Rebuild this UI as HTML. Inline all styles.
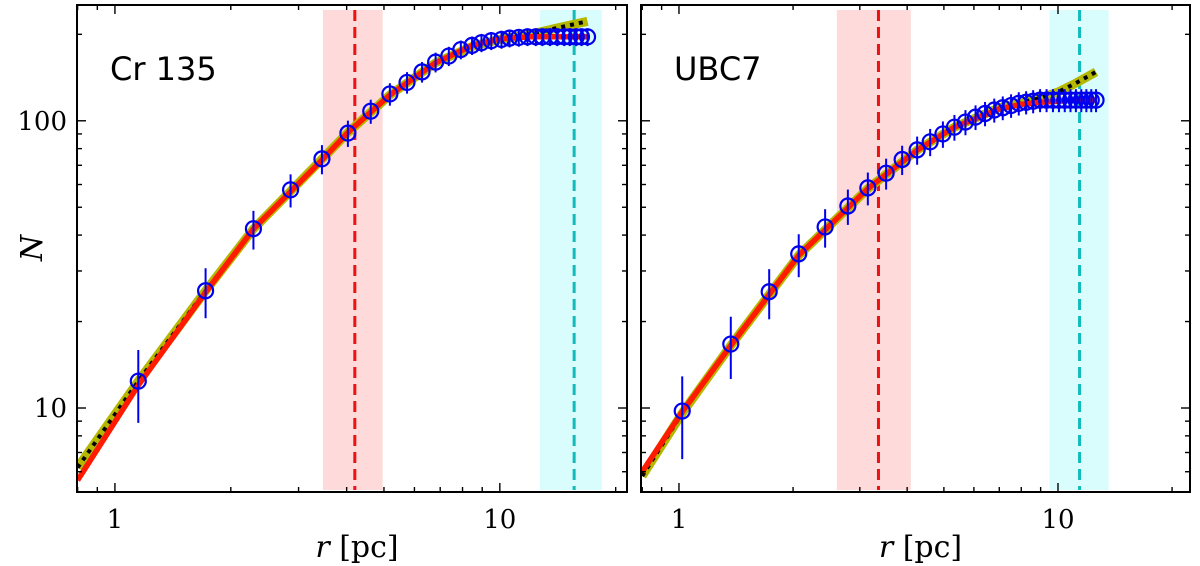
<!DOCTYPE html>
<html><head><meta charset="utf-8">
<style>
html,body{margin:0;padding:0;background:#fff;}
svg{display:block;}
text{font-family:"DejaVu Sans","Liberation Sans",sans-serif;}
.serif{font-family:"DejaVu Serif","Liberation Serif",serif;}
</style></head>
<body>
<svg id="chart" width="1200" height="566" viewBox="0 0 1200 566" xmlns="http://www.w3.org/2000/svg"></svg>
<script>
// ---- data: Cr 135 ----
const crR = [1.15,1.72,2.29,2.86,3.45,4.03,4.62,5.18,5.74,6.28,6.81,7.37,7.92,8.47,8.96,9.5,10.1,10.6,11.2,11.8,12.4,12.9,13.5,14.1,14.7,15.2,15.8,16.3,16.9];
const crN = [12.4,25.6,42.1,57.5,73.7,90.6,108,124,136,148,160,168,177,183,187,190,192,194,195,196,196,196,196,196,196,196,196,196,196];
const crFitR = [0.8,1.15,1.72,2.29,3.45,4.03,5.18,6.8,8.5,10,12,14,16.9];
const crKing = [5.6,12.0,25.3,42,73,91,123,159,183,193,196,196,196];
const crAlt = [6.2,12.4,25.6,42,73.5,91,123,159,182,192,200,210,222];
const crBand = [3.47,4.96]; const crRc = [4.2];
const crTidalBand = [12.7,18.4]; const crRt = [15.6];
// ---- data: UBC7 ----
const ubR = [1.02,1.37,1.73,2.07,2.43,2.79,3.15,3.52,3.88,4.25,4.6,4.97,5.33,5.7,6.06,6.42,6.79,7.15,7.52,7.88,8.24,8.6,8.97,9.33,9.7,10.06,10.42,10.79,11.15,11.52,11.88,12.24,12.6];
const ubN = [9.76,16.7,25.4,34.4,42.7,50.5,58.4,65.7,73.3,79.2,84.5,90,95,99,103,106,109,111,113,115,116,117,118,118,118,118,118,118,118,118,118,118,118];
const ubFitR = [0.8,1.02,1.37,2.07,3.15,4.25,5.33,7,8,9,10,11,12.6];
const ubKing = [6.0,9.7,16.5,34,58,79,95,110,114,116,117,118,118];
const ubAlt = [5.8,9.6,16.5,34,58,79,95,111,116,120,126,134,148];
const ubBand = [2.61,4.09]; const ubRc = [3.36];
const ubTidalBand = [9.5,13.6]; const ubRt = [11.4];
const xTicks = [1,10]; const xTickLabels = ["1","10"];
const yTicks = [10,100]; const yTickLabels = ["10","100"];

const NS = "http://www.w3.org/2000/svg";
const svg = document.getElementById('chart');
const YMIN=5.1, YMAX=253, TOP=5, BOT=492;
function mk(tag, attrs, parent){const e=document.createElementNS(NS,tag);for(const k in attrs)e.setAttribute(k,attrs[k]);(parent||svg).appendChild(e);return e;}

function panel(px0, px1, XMIN, XMAX, name, label, R, N, fitR, king, alt, band, rc, tband, rt){
  const g = mk('g',{});
  
  
  const sx = v => px0 + (Math.log10(v)-Math.log10(XMIN))/(Math.log10(XMAX)-Math.log10(XMIN))*(px1-px0);
  const sy = v => BOT - (Math.log10(v)-Math.log10(YMIN))/(Math.log10(YMAX)-Math.log10(YMIN))*(BOT-TOP);
  const clip = 'clip-'+name;
  const cp = mk('clipPath',{id:clip},g); mk('rect',{x:px0,y:TOP,width:px1-px0,height:BOT-TOP},cp);
  const pg = mk('g',{'clip-path':'url(#'+clip+')'},g);
  let e;
  e = mk('rect',{x:sx(band[0]),y:TOP+5,width:sx(band[1])-sx(band[0]),height:BOT-TOP-7,fill:'#ffdada'},pg);
   
  e = mk('rect',{x:sx(tband[0]),y:TOP+5,width:sx(tband[1])-sx(tband[0]),height:BOT-TOP-7,fill:'#d9fcfc'},pg);
   
  e = mk('line',{x1:sx(rc[0]),x2:sx(rc[0]),y1:TOP+5,y2:BOT-2,stroke:'#ee1111','stroke-width':3,'stroke-dasharray':'11 6'},pg);
   
  e = mk('line',{x1:sx(rt[0]),x2:sx(rt[0]),y1:TOP+5,y2:BOT-2,stroke:'#11bbbb','stroke-width':3,'stroke-dasharray':'11 6'},pg);
   
  const path = arr => fitR.map((r,i)=>(i?'L':'M')+sx(r).toFixed(1)+','+sy(arr[i]).toFixed(1)).join(' ');
  e = mk('path',{d:path(alt),fill:'none',stroke:'#b5b800','stroke-width':9},pg);
   
  e = mk('path',{d:path(alt),fill:'none',stroke:'#000','stroke-width':4,'stroke-dasharray':'4 5'},pg);
   
  e = mk('path',{d:path(king),fill:'none',stroke:'#ff1a00','stroke-width':5.5},pg);
   
  R.forEach((r,i)=>{
    const n=N[i], s=Math.sqrt(n);
    const l = mk('line',{x1:sx(r),x2:sx(r),y1:sy(n+s),y2:sy(Math.max(n-s,0.1)),stroke:'#0000ee','stroke-width':2},pg);
     
    const c = mk('circle',{cx:sx(r),cy:sy(n),r:7.5,fill:'none',stroke:'#0000ee','stroke-width':2.2},pg);
     
  });
  const tk = mk('g',{stroke:'#000','stroke-width':1.4},g);
  for(let d=-1; d<=1; d++){ for(let m=1;m<10;m++){ const v=m*Math.pow(10,d); if(v<XMIN||v>XMAX) continue;
    const X=sx(v), L=(m===1)?9:5;
    mk('line',{x1:X,x2:X,y1:BOT,y2:BOT-L},tk); mk('line',{x1:X,x2:X,y1:TOP,y2:TOP+L},tk);}}
  for(let d=0; d<=2; d++){ for(let m=1;m<10;m++){ const v=m*Math.pow(10,d); if(v<YMIN||v>YMAX) continue;
    const Y=sy(v), L=(m===1)?9:5;
    mk('line',{x1:px0,x2:px0+L,y1:Y,y2:Y},tk); mk('line',{x1:px1,x2:px1-L,y1:Y,y2:Y},tk);}}
  xTicks.forEach((v,i)=>{ const t=mk('text',{x:sx(v),y:528,'font-size':26,'text-anchor':'middle',class:'serif'},g); t.textContent=xTickLabels[i];
     });
  const fr = mk('rect',{x:px0,y:TOP,width:px1-px0,height:BOT-TOP,fill:'none',stroke:'#000','stroke-width':2},g);
   
  const lab = mk('text',{x:px0+33,y:80,'font-size':32},g); lab.textContent=label;
   
  const xl = mk('text',{x:(px0+px1)/2+5,y:557,'font-size':30,'text-anchor':'middle',class:'serif'},g);
  xl.innerHTML='<tspan font-style="italic">r</tspan> [pc]';
   
  return sy;
}
const syL = panel(77,627,0.797,21.4,'panel-cr135','Cr 135',crR,crN,crFitR,crKing,crAlt,crBand,crRc,crTidalBand,crRt);
panel(641,1190,0.794,22.3,'panel-ubc7','UBC7',ubR,ubN,ubFitR,ubKing,ubAlt,ubBand,ubRc,ubTidalBand,ubRt);
yTicks.forEach((v,i)=>{ const t=mk('text',{x:67,y:syL(v)+9,'font-size':26,'text-anchor':'end',class:'serif'}); t.textContent=yTickLabels[i];
   });
const yl = mk('text',{x:42,y:248,'font-size':30,'text-anchor':'middle','font-style':'italic',class:'serif',transform:'rotate(-90 42 248)'});
yl.textContent='N';


</script>
</body></html>
